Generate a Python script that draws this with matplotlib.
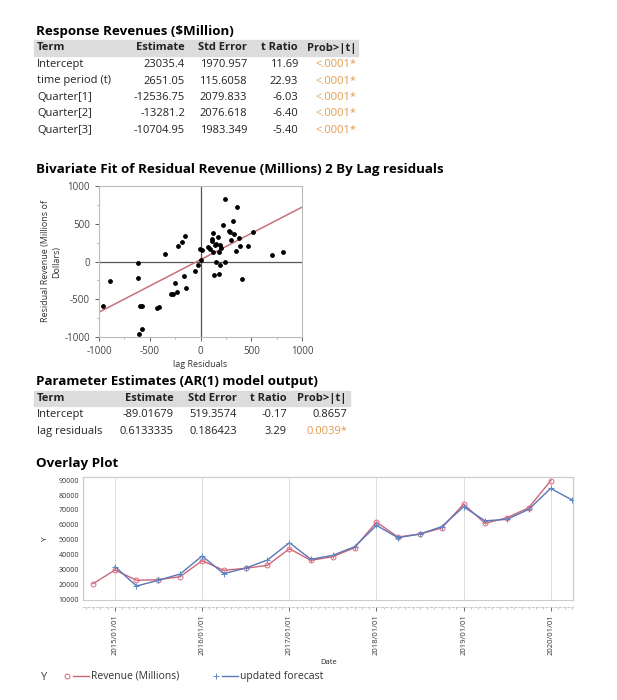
import matplotlib
matplotlib.use("Agg")
import matplotlib.pyplot as plt
import matplotlib.dates as mdates
from matplotlib.patches import Rectangle
import pandas as pd

plt.rcParams['font.family'] = ['Open Sans', 'DejaVu Sans']
plt.rcParams['axes.unicode_minus'] = False

# ---- data ----
t1_title = "Response Revenues ($Million)"
t1_terms = ["Intercept", "time period (t)", "Quarter[1]", "Quarter[2]", "Quarter[3]"]
t1_est = ["23035.4", "2651.05", "-12536.75", "-13281.2", "-10704.95"]
t1_se = ["1970.957", "115.6058", "2079.833", "2076.618", "1983.349"]
t1_t = ["11.69", "22.93", "-6.03", "-6.40", "-5.40"]
t1_p = ["<.0001*", "<.0001*", "<.0001*", "<.0001*", "<.0001*"]
t1_sig = [True, True, True, True, True]

biv_title = "Bivariate Fit of Residual Revenue (Millions) 2 By Lag residuals"
lag_resid = [246, 361, 321, 223, 282, 288, 331, 305, 380, 393, 351, 472, 521, 702, 813,
             410, 121, 118, 115, 170, 144, 151, 184, 197, 203, 125, 75, 95, -7, 16, 3,
             -26, -52, 154, 239, 197, 134, 184, -151, -220, -187, -348, -167, -256,
             -233, -289, -275, -138, -430, -407, -620, -620, -892, -957, -597, -580,
             -580, -603]
resid = [830, 720, 530, 477, 410, 397, 362, 291, 309, 207, 141, 199, 397, 80, 132,
         -234, 371, 300, 265, 331, 212, 238, 124, 212, 185, 132, 190, 163, 159, 155, 22,
         -40, -132, 0, 0, -44, -177, -159, 340, 203, 256, 97, -190, -287,
         -402, -437, -433, -349, -614, -605, -22, -216, -252, -583, -587, -596,
         -896, -958]
fit_intercept = 24
fit_slope = 0.696

t2_title = "Parameter Estimates (AR(1) model output)"
t2_terms = ["Intercept", "lag residuals"]
t2_est = ["-89.01679", "0.6133335"]
t2_se = ["519.3574", "0.186423"]
t2_t = ["-0.17", "3.29"]
t2_p = ["0.8657", "0.0039*"]
t2_sig = [False, True]

rev_dates = pd.date_range("2014-10-01", "2020-01-01", freq="QS")
revenue = [20450, 29640, 22730, 23130, 25150, 35900, 29430, 30780, 32800, 43930,
           36140, 38570, 44600, 61830, 51770, 53780, 57800, 73900, 60960, 64700,
           71440, 89550]
fc_dates = pd.date_range("2015-01-01", "2020-04-01", freq="QS")
forecast = [31900, 18900, 22700, 26960, 39030, 27170, 30900, 36340, 47950,
            36810, 39460, 45270, 59610, 51330, 53780, 58700, 72100, 62700, 63640,
            70330, 84420, 76580]

W, H = 617, 700
fig = plt.figure(figsize=(W / 100, H / 100), dpi=100)
TXT = "#222222"
ORANGE = "#E39A4C"


def T(x, y, s, **kw):
    kw.setdefault("color", TXT)
    kw.setdefault("va", "center")
    fig.text(x / W, 1 - y / H, s, **kw)


def table(title, y0, x_right, terms, cols, sig, band_right):
    T(36, y0, title, fontsize=9.6, fontweight="bold", color="black")
    hy = y0 + 17
    fig.patches.append(Rectangle((34 / W, 1 - (hy + 7.5) / H), (band_right - 34) / W, 15 / H,
                                 transform=fig.transFigure, color="#dcdcdc", zorder=0))
    T(37, hy, "Term", fontsize=8, fontweight="bold")
    names = ["Estimate", "Std Error", "t Ratio", "Prob>|t|"]
    for xr, nm in zip(x_right, names):
        T(xr, hy, nm, fontsize=8, fontweight="bold", ha="right")
    for i, term in enumerate(terms):
        ry = hy + 16.5 * (i + 1)
        T(37, ry, term, fontsize=8)
        for j, xr in enumerate(x_right):
            c = cols[j][i]
            color = ORANGE if (j == 3 and sig[i]) else TXT
            T(xr, ry, c, fontsize=8, ha="right", color=color)


table(t1_title, 31, [185, 247, 298, 357], t1_terms, [t1_est, t1_se, t1_t, t1_p], t1_sig, 358)

# ---- bivariate fit ----
T(36, 170, biv_title, fontsize=9.6, fontweight="bold", color="black")
ax = fig.add_axes([99 / W, 1 - 337 / H, 203 / W, 151 / H])
ax.scatter(lag_resid, resid, s=6, color="black", zorder=3)
ax.axhline(0, color="#555555", lw=0.9, zorder=2)
ax.axvline(0, color="#555555", lw=0.9, zorder=2)
ax.plot([-1000, 1000], [fit_intercept - 1000 * fit_slope, fit_intercept + 1000 * fit_slope],
        color="#c8707a", lw=1.1, zorder=2)
ax.set_xlim(-1000, 1000)
ax.set_ylim(-1000, 1000)
ax.set_xticks([-1000, -500, 0, 500, 1000])
ax.set_yticks([-1000, -500, 0, 500, 1000])
ax.set_xticks(range(-1000, 1001, 250), minor=True)
ax.set_yticks(range(-1000, 1001, 250), minor=True)
ax.tick_params(labelsize=7, colors="#444444", length=3, width=0.6)
ax.tick_params(which="minor", length=1.5, width=0.5, colors="#888888")
for s in ax.spines.values():
    s.set_color("#bbbbbb")
    s.set_linewidth(0.8)
ax.set_xlabel("lag Residuals", fontsize=6.5, color="#333333", labelpad=2)
ax.set_ylabel("Residual Revenue (Millions of\nDollars)", fontsize=6.5, color="#333333",
              labelpad=2, linespacing=1.3)

table(t2_title, 381, [174, 237, 287, 347], t2_terms, [t2_est, t2_se, t2_t, t2_p], t2_sig, 350)

# ---- overlay plot ----
T(36, 464, "Overlay Plot", fontsize=9.6, fontweight="bold", color="black")
ax2 = fig.add_axes([83.3 / W, 1 - 600 / H, 490 / W, 123.3 / H])
ax2.plot(rev_dates, revenue, color="#cc6677", lw=1.0, marker="o", ms=3.5, mfc="none",
         mec="#dd6677", mew=0.7, zorder=3)
ax2.plot(fc_dates, forecast, color="#5a76b8", lw=1.0, marker="+", ms=4.5,
         mec="#5a8ac8", mew=0.7, zorder=3)
ax2.set_xlim(pd.Timestamp("2014-08-21"), pd.Timestamp("2020-04-05"))
ax2.set_ylim(9500, 92300)
ax2.set_yticks(range(10000, 90001, 10000))
ax2.xaxis.set_major_locator(mdates.YearLocator())
ax2.xaxis.set_major_formatter(mdates.DateFormatter("%Y/%m/%d"))
ax2.xaxis.set_minor_locator(mdates.MonthLocator())
ax2.grid(axis="x", color="#dddddd", lw=0.7)
ax2.tick_params(axis="y", labelsize=5, colors="#333333", length=0, pad=3)
ax2.tick_params(axis="x", labelsize=5.5, colors="#333333", length=3, width=0.5,
                labelrotation=90, pad=2)
ax2.tick_params(axis="x", which="minor", length=1.5, width=0.5, colors="#aaaaaa")
for nm, s in ax2.spines.items():
    s.set_color("#cccccc")
    s.set_linewidth(0.8)
ax2.spines["bottom"].set_position(("outward", 5))
ax2.spines["bottom"].set_linestyle((0, (2, 2)))
ax2.add_patch(Rectangle((0, 0), 1, 1, transform=ax2.transAxes, fill=False,
                        ec="#cccccc", lw=0.8, clip_on=False))
ax2.set_xlabel("Date", fontsize=5.5, color="#222222", labelpad=3)
ax2.set_ylabel("Y", fontsize=6, color="#222222", labelpad=7)

# legend
T(40, 678, "Y", fontsize=8, color="#444444")
fig.lines.append(plt.Line2D([67.3 / W], [1 - 676 / H], transform=fig.transFigure, marker="o",
                            ms=3.5, mfc="none", mec="#dd6677", mew=0.7))
fig.lines.append(plt.Line2D([72.7 / W, 89.3 / W], [1 - 676 / H] * 2, transform=fig.transFigure,
                            color="#cc6677", lw=1.0))
T(91.5, 676, "Revenue (Millions)", fontsize=7.5, color="#333333")
fig.lines.append(plt.Line2D([216 / W], [1 - 676 / H], transform=fig.transFigure, marker="+",
                            ms=4.5, mec="#5a8ac8", mew=0.7))
fig.lines.append(plt.Line2D([221.7 / W, 238 / W], [1 - 676 / H] * 2, transform=fig.transFigure,
                            color="#5a76b8", lw=1.0))
T(240.5, 676, "updated forecast", fontsize=7.5, color="#333333")

fig.savefig("out.png", dpi=100)
